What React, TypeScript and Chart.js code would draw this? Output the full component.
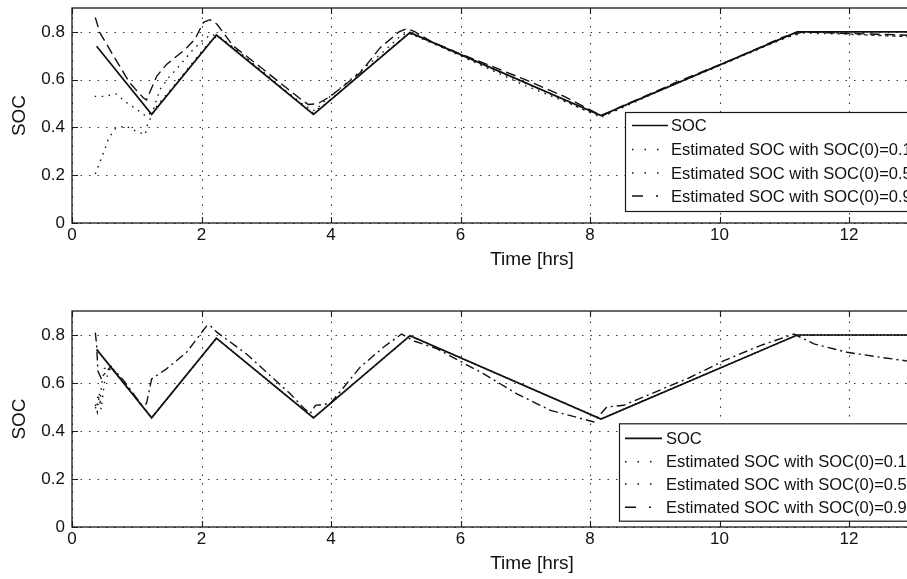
import React, { useEffect, useRef } from "react";
import { Chart, registerables } from "chart.js";
Chart.register(...registerables);

// ---------- data ----------
const xTicks = [0, 2, 4, 6, 8, 10, 12, 14];
const yTicks = [0, 0.2, 0.4, 0.6, 0.8];
const xTitle = "Time [hrs]";
const yTitle = "SOC";
const legendLabels = [
  "SOC",
  "Estimated SOC with SOC(0)=0.1",
  "Estimated SOC with SOC(0)=0.5",
  "Estimated SOC with SOC(0)=0.9",
];

// true SOC (both panels)
const socTime = [0.38, 1.23, 2.23, 3.73, 5.22, 8.17, 11.2, 14];
const socValue = [0.74, 0.455, 0.787, 0.455, 0.797, 0.45, 0.8, 0.8];

// top panel estimates
const topEst01Time = [0.36, 0.43, 0.5, 0.56, 0.66, 0.82, 0.97, 1.13, 1.17, 1.31, 1.5, 1.8, 2.1, 2.25, 2.6, 3.0, 3.4, 3.7, 3.9, 4.4, 4.9, 5.2, 5.5, 6.1, 6.7, 7.3, 7.9, 8.2, 8.6, 9.3, 10.1, 10.8, 11.25, 11.8, 12.4, 13, 14];
const topEst01Value = [0.205, 0.255, 0.303, 0.351, 0.393, 0.407, 0.387, 0.369, 0.416, 0.49, 0.55, 0.65, 0.75, 0.785, 0.71, 0.62, 0.53, 0.46, 0.495, 0.61, 0.725, 0.795, 0.76, 0.69, 0.62, 0.55, 0.475, 0.445, 0.5, 0.58, 0.67, 0.75, 0.8, 0.795, 0.785, 0.78, 0.78];

const topEst05Time = [0.35, 0.5, 0.68, 0.85, 1.0, 1.15, 1.25, 1.36, 1.49, 1.61, 1.72, 1.85, 2.0, 2.15, 2.3, 2.44, 2.65, 2.96, 3.29, 3.6, 3.75, 3.9, 4.3, 4.8, 5.1, 5.3, 5.8, 6.4, 7.0, 7.6, 8.15, 8.4, 9.0, 10.0, 11.0, 11.3, 12.0, 12.5, 13, 14];
const topEst05Value = [0.53, 0.53, 0.54, 0.503, 0.475, 0.446, 0.47, 0.56, 0.608, 0.643, 0.678, 0.72, 0.76, 0.79, 0.775, 0.745, 0.7, 0.63, 0.555, 0.49, 0.47, 0.51, 0.6, 0.715, 0.79, 0.79, 0.725, 0.65, 0.575, 0.51, 0.445, 0.47, 0.545, 0.66, 0.775, 0.795, 0.79, 0.785, 0.78, 0.78];

const topEst09Time = [0.36, 0.43, 0.64, 0.89, 1.1, 1.15, 1.31, 1.46, 1.75, 1.9, 2.03, 2.13, 2.24, 2.49, 2.9, 3.31, 3.55, 3.65, 3.8, 3.99, 4.45, 4.76, 5.05, 5.17, 5.3, 5.53, 5.95, 6.41, 7.0, 7.6, 8.1, 8.2, 8.5, 9.3, 10.2, 11.0, 11.3, 11.8, 12.5, 13, 14];
const topEst09Value = [0.86, 0.797, 0.7, 0.587, 0.524, 0.515, 0.615, 0.664, 0.727, 0.77, 0.84, 0.851, 0.832, 0.741, 0.655, 0.566, 0.515, 0.496, 0.5, 0.53, 0.629, 0.734, 0.8, 0.814, 0.8, 0.762, 0.713, 0.664, 0.6, 0.53, 0.46, 0.45, 0.49, 0.585, 0.685, 0.78, 0.8, 0.795, 0.79, 0.785, 0.78];

// bottom panel estimates
const botEst01Time = [0.36, 0.38, 0.4, 0.43, 0.46, 0.5, 0.6, 1.23, 2.23, 3.73, 5.22, 8.17, 11.2, 14];
const botEst01Value = [0.5, 0.49, 0.55, 0.51, 0.6, 0.66, 0.67, 0.456, 0.786, 0.456, 0.796, 0.451, 0.799, 0.799];

const botEst05Time = [0.36, 0.39, 0.42, 0.45, 0.5, 0.6, 1.23, 2.23, 3.73, 5.22, 8.17, 11.2, 14];
const botEst05Value = [0.51, 0.48, 0.56, 0.49, 0.6, 0.665, 0.455, 0.787, 0.455, 0.797, 0.45, 0.8, 0.8];

const botEst09Time = [0.36, 0.38, 0.4, 0.45, 0.59, 0.66, 0.8, 0.95, 1.08, 1.15, 1.23, 1.46, 1.77, 2.08, 2.13, 2.24, 2.7, 3.37, 3.6, 3.68, 3.76, 3.99, 4.45, 4.81, 5.09, 5.27, 5.64, 6.36, 6.87, 7.39, 8.06, 8.26, 8.52, 9.55, 10.07, 10.63, 11.15, 11.46, 11.97, 12.49, 12.87, 14];
const botEst09Value = [0.81, 0.76, 0.65, 0.62, 0.666, 0.652, 0.61, 0.555, 0.507, 0.514, 0.617, 0.659, 0.728, 0.838, 0.84, 0.811, 0.72, 0.555, 0.49, 0.473, 0.507, 0.514, 0.666, 0.749, 0.804, 0.776, 0.742, 0.638, 0.555, 0.486, 0.438, 0.5, 0.507, 0.624, 0.693, 0.756, 0.804, 0.763, 0.728, 0.707, 0.693, 0.67];

// ---------- layout ----------
const FONT = "'Liberation Sans', Arial, Helvetica, sans-serif";
const CANVAS_W = 1000;
const AREA_LEFT = 72;
const AREA_RIGHT = 978.5;
const DOT_DASH = [1.5, 5.5];

type Panel = {
  offsetY: number;
  height: number;
  areaTop: number;
  areaBottom: number;
  series: { t: number[]; v: number[] }[];
  estDash: number[];
  legend: { left: number; top: number; bottom: number; rows: number[]; s0: number; s1: number; tx: number };
};

const panels: Panel[] = [
  {
    offsetY: 0,
    height: 290,
    areaTop: 8,
    areaBottom: 223,
    series: [
      { t: socTime, v: socValue },
      { t: topEst01Time, v: topEst01Value },
      { t: topEst05Time, v: topEst05Value },
      { t: topEst09Time, v: topEst09Value },
    ],
    estDash: [10, 5],
    legend: { left: 625, top: 112, bottom: 211, rows: [125.5, 149.5, 173, 196], s0: 632, s1: 668, tx: 671 },
  },
  {
    offsetY: 290,
    height: 289,
    areaTop: 21,
    areaBottom: 237,
    series: [
      { t: socTime, v: socValue },
      { t: botEst01Time, v: botEst01Value },
      { t: botEst05Time, v: botEst05Value },
      { t: botEst09Time, v: botEst09Value },
    ],
    estDash: [9, 4, 2, 4],
    legend: { left: 619, top: 133.3, bottom: 230.7, rows: [148.3, 171.7, 194, 217.3], s0: 625, s1: 662, tx: 666 },
  },
];

function pts(t: number[], v: number[]) {
  return t.map((x, i) => ({ x, y: v[i] }));
}

function makeChart(canvas: HTMLCanvasElement, p: Panel) {
  const styles = [
    { dash: [] as number[], width: 1.7 },
    { dash: DOT_DASH, width: 1.4 },
    { dash: DOT_DASH, width: 1.4 },
    { dash: p.estDash, width: 1.4 },
  ];

  const framePlugin = {
    id: "frame",
    beforeDatasetsDraw(chart: any) {
      const ctx = chart.ctx as CanvasRenderingContext2D;
      const a = chart.chartArea;
      const xs = chart.scales.x;
      const ys = chart.scales.y;
      ctx.save();
      // dotted grid
      ctx.strokeStyle = "#333";
      ctx.lineWidth = 1.1;
      ctx.setLineDash([1.5, 7]);
      xTicks.forEach((t) => {
        const x = Math.round(xs.getPixelForValue(t)) + 0.5;
        ctx.beginPath();
        ctx.moveTo(x, a.bottom);
        ctx.lineTo(x, a.top);
        ctx.stroke();
      });
      yTicks.forEach((t) => {
        const y = Math.round(ys.getPixelForValue(t)) + 0.5;
        ctx.beginPath();
        ctx.moveTo(a.left, y);
        ctx.lineTo(a.right, y);
        ctx.stroke();
      });
      ctx.setLineDash([]);
      // frame
      ctx.strokeStyle = "#1a1a1a";
      ctx.lineWidth = 1.3;
      ctx.strokeRect(a.left, a.top, a.right - a.left, a.bottom - a.top);
      // inward ticks
      ctx.lineWidth = 1.1;
      const tl = 6;
      xTicks.forEach((t) => {
        const x = Math.round(xs.getPixelForValue(t)) + 0.5;
        ctx.beginPath();
        ctx.moveTo(x, a.bottom);
        ctx.lineTo(x, a.bottom - tl);
        ctx.moveTo(x, a.top);
        ctx.lineTo(x, a.top + tl);
        ctx.stroke();
      });
      yTicks.forEach((t) => {
        const y = Math.round(ys.getPixelForValue(t)) + 0.5;
        ctx.beginPath();
        ctx.moveTo(a.left, y);
        ctx.lineTo(a.left + tl, y);
        ctx.moveTo(a.right, y);
        ctx.lineTo(a.right - tl, y);
        ctx.stroke();
      });
      ctx.restore();
    },
    afterDraw(chart: any) {
      const ctx = chart.ctx as CanvasRenderingContext2D;
      const a = chart.chartArea;
      ctx.save();
      // axis titles
      ctx.fillStyle = "#111";
      ctx.font = `19px ${FONT}`;
      ctx.textAlign = "center";
      ctx.textBaseline = "middle";
      ctx.fillText(xTitle, 532, a.bottom + 36.5);
      ctx.save();
      ctx.translate(20, (a.top + a.bottom) / 2);
      ctx.rotate(-Math.PI / 2);
      ctx.fillText(yTitle, 0, 0);
      ctx.restore();
      // legend
      const L = p.legend;
      ctx.fillStyle = "#fff";
      ctx.fillRect(L.left, L.top, 320, L.bottom - L.top);
      ctx.strokeStyle = "#1a1a1a";
      ctx.lineWidth = 1.2;
      ctx.strokeRect(L.left + 0.5, L.top + 0.5, 320, L.bottom - L.top);
      ctx.font = `16.5px ${FONT}`;
      ctx.textAlign = "left";
      ctx.fillStyle = "#111";
      legendLabels.forEach((lab, i) => {
        const y = L.rows[i];
        ctx.strokeStyle = "#111";
        ctx.lineWidth = i === 0 ? 1.7 : 1.4;
        const dash = i === 0 ? [] : i === 3 ? [11, 13, 2, 20] : [1.5, 11];
        ctx.setLineDash(dash);
        ctx.beginPath();
        ctx.moveTo(L.s0, y);
        ctx.lineTo(L.s1, y);
        ctx.stroke();
        ctx.setLineDash([]);
        ctx.fillText(lab, L.tx, y + 1);
      });
      ctx.restore();
    },
  };

  const xHeight = p.height - p.areaBottom;

  return new Chart(canvas, {
    type: "line",
    data: {
      datasets: p.series.map((s, i) => ({
        label: legendLabels[i],
        data: pts(s.t, s.v),
        borderColor: "#111",
        borderWidth: styles[i].width,
        borderDash: styles[i].dash,
        pointRadius: 0,
        fill: false,
        tension: 0,
      })),
    },
    options: {
      responsive: false,
      animation: false,
      events: [],
      layout: { padding: { top: p.areaTop, left: 0, right: CANVAS_W - AREA_RIGHT, bottom: 0 } },
      plugins: { legend: { display: false }, tooltip: { enabled: false }, title: { display: false } },
      scales: {
        x: {
          type: "linear",
          min: 0,
          max: 14,
          afterBuildTicks: (sc: any) => {
            sc.ticks = xTicks.map((v) => ({ value: v }));
          },
          afterFit: (sc: any) => {
            sc.height = xHeight;
            sc.paddingLeft = 0;
            sc.paddingRight = 0;
          },
          grid: { display: false, drawTicks: false },
          border: { display: false },
          ticks: {
            padding: 2,
            maxRotation: 0,
            autoSkip: false,
            color: "#111",
            font: { family: FONT, size: 17 },
            callback: (v: any) => String(v),
          },
        },
        y: {
          type: "linear",
          min: 0,
          max: 0.9,
          afterBuildTicks: (sc: any) => {
            sc.ticks = yTicks.map((v) => ({ value: v }));
          },
          afterFit: (sc: any) => {
            sc.width = AREA_LEFT;
            sc.paddingTop = 0;
            sc.paddingBottom = 0;
          },
          grid: { display: false, drawTicks: false },
          border: { display: false },
          ticks: {
            padding: 7,
            autoSkip: false,
            color: "#111",
            font: { family: FONT, size: 17 },
            callback: (v: any) => (v === 0 ? "0" : Number(v).toFixed(1)),
          },
        },
      },
    },
    plugins: [framePlugin],
  } as any);
}

function PanelChart({ p }: { p: Panel }) {
  const ref = useRef<HTMLCanvasElement | null>(null);
  useEffect(() => {
    if (!ref.current) return;
    const c = makeChart(ref.current, p);
    return () => c.destroy();
  }, [p]);
  return (
    <canvas
      ref={ref}
      width={CANVAS_W}
      height={p.height}
      style={{ position: "absolute", left: 0, top: p.offsetY, width: CANVAS_W, height: p.height }}
    />
  );
}

export default function App() {
  return (
    <div
      style={{
        position: "fixed",
        left: 0,
        top: 0,
        width: 907,
        height: 579,
        overflow: "hidden",
        background: "#fff",
      }}
    >
      {panels.map((p, i) => (
        <PanelChart key={i} p={p} />
      ))}
    </div>
  );
}
